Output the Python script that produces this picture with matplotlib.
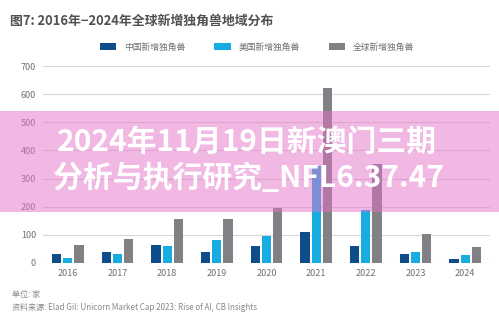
import numpy as np
import matplotlib
matplotlib.use('Agg')
from matplotlib import pyplot as plt

plt.rcParams['font.family'] = ['Noto Sans CJK SC', 'DejaVu Sans']

# data
years = ['2016', '2017', '2018', '2019', '2020', '2021', '2022', '2023', '2024']
china = [31, 39, 63, 39, 60, 109, 60, 31, 13]
usa = [19, 31, 60, 82, 97, 345, 187, 39, 27]
world = [63, 84, 156, 156, 197, 623, 351, 102, 56]
series_names = ['中国新增独角兽', '美国新增独角兽', '全球新增独角兽']
colors = ['#0f4c8a', '#17ade2', '#808085']

fig = plt.figure(figsize=(4.99, 3.25), dpi=100)
ax = fig.add_axes([43/499, 62/325, 447/499, 197/325])

x = np.arange(len(years))
w = 0.185
step = 0.225
ax.bar(x - step, china, width=w, color=colors[0], label=series_names[0], zorder=3)
ax.bar(x, usa, width=w, color=colors[1], label=series_names[1], zorder=3)
ax.bar(x + step, world, width=w, color=colors[2], label=series_names[2], zorder=3)

ax.set_xlim(-0.5, len(years) - 0.5)
ax.set_ylim(0, 700)
ax.set_yticks(range(0, 701, 100))
ax.set_xticks(x)
ax.set_xticklabels(years)
ax.tick_params(length=0, labelsize=6.5, labelcolor='#707070')
ax.tick_params(axis='y', pad=5)
ax.tick_params(axis='x', pad=4)
ax.grid(axis='y', color='#d6d6d6', linewidth=0.8, zorder=0)
for s in ax.spines.values():
    s.set_visible(False)

# title + legend
fig.text(10/499, 1 - 21/325, '图7: 2016年−2024年全球新增独角兽地域分布', fontsize=9.3,
         fontweight='bold', color='#505050', va='center', ha='left')
fig.legend(loc='center', bbox_to_anchor=(257/499, 1 - 47/325), ncol=3, frameon=False,
           fontsize=6.3, handlelength=1.9, handleheight=0.9, handletextpad=0.9,
           columnspacing=3.3, labelcolor='#707070')

# footnotes
fig.text(12/499, 1 - 295/325, '单位: 家', fontsize=5.8, color='#888888', va='center',
         style='italic')
fig.text(12/499, 1 - 307/325,
         '资料来源: Elad Gil: Unicorn Market Cap 2023: Rise of AI, CB Insights',
         fontsize=5.8, color='#888888', va='center', style='italic')

# pink watermark band over the chart
fig.patches.append(plt.Rectangle((0, 1 - 212/325), 1, 101/325, transform=fig.transFigure,
                                 facecolor='#e573c9', edgecolor='none', linewidth=0,
                                 alpha=0.5, zorder=10))
fig.text(57/499, 1 - 142/325, '2024年11月19日新澳门三期', fontsize=21.5, fontweight='bold',
         color='white', va='center', ha='left', zorder=11)
fig.text(53/499, 1 - 178/325, '分析与执行研究_NFL6.37.47', fontsize=21.5, fontweight='bold',
         color='white', va='center', ha='left', zorder=11)

fig.savefig('out.png', dpi=100)
